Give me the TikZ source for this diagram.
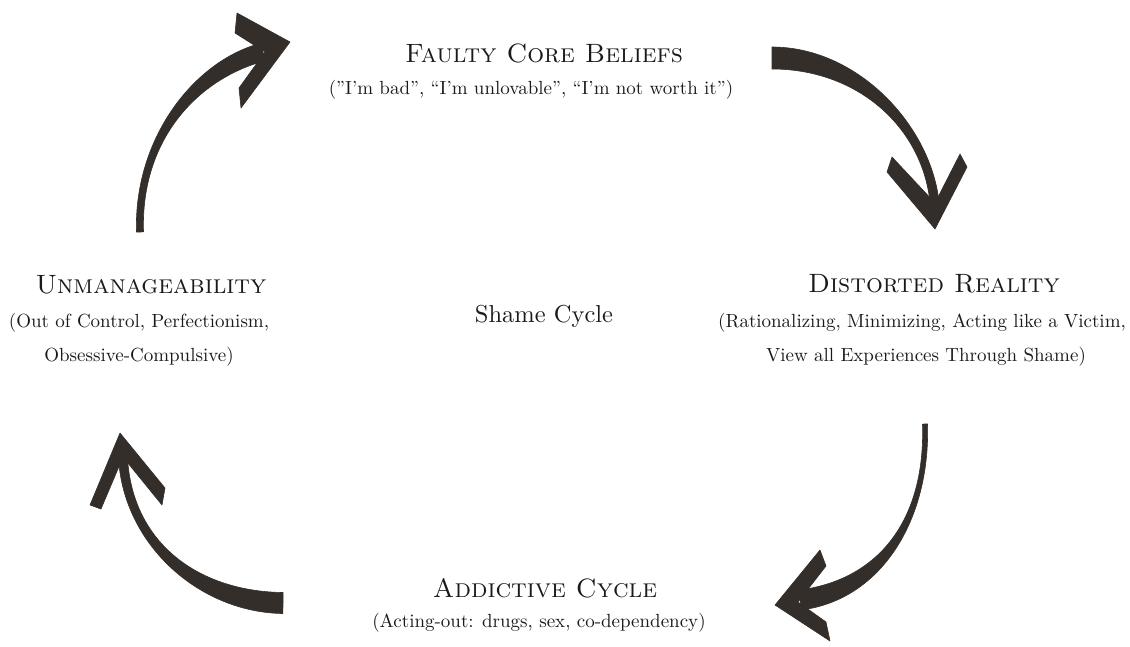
\documentclass[tikz,border=0pt]{standalone}
\usepackage{fontspec}
\setmainfont{lmroman10-regular.otf}[SmallCapsFont=lmromancaps10-regular.otf]
\usetikzlibrary{calc}
\definecolor{ink}{HTML}{342E2B}
\definecolor{txt}{HTML}{1A1A1A}
\tikzset{
  ttl/.style={anchor=base, inner sep=0pt, text=txt, font=\fontsize{26.5}{30}\selectfont\scshape},
  sbt/.style={anchor=base, inner sep=0pt, text=txt, font=\fontsize{19}{23}\selectfont},
  ctr/.style={anchor=base, inner sep=0pt, text=txt, font=\fontsize{24.5}{28}\selectfont},
  inkfill/.style={fill=ink, draw=ink, line width=0.6pt, line join=round}
}
% tapered brush shaft: #1 prefix, #2..#5 control points, #6 start half width, #7 end half width
\newcommand{\brushshaft}[7]{%
  \path (#2) coordinate (#1p0) (#3) coordinate (#1p1) (#4) coordinate (#1p2) (#5) coordinate (#1p3);
  \path ($(#1p0)!#6!90:(#1p1)$) coordinate (#1l0)
        ($(#1p0)!#6!-90:(#1p1)$) coordinate (#1r0)
        ($(#1p3)!#7!-90:(#1p2)$) coordinate (#1l3)
        ($(#1p3)!#7!90:(#1p2)$) coordinate (#1r3);
  \path ($(#1p1)+(#1l0)-(#1p0)$) coordinate (#1l1)
        ($(#1p2)+(#1l3)-(#1p3)$) coordinate (#1l2)
        ($(#1p1)+(#1r0)-(#1p0)$) coordinate (#1r1)
        ($(#1p2)+(#1r3)-(#1p3)$) coordinate (#1r2);
  \fill[inkfill] (#1l0) .. controls (#1l1) and (#1l2) .. (#1l3)
     -- (#1r3) .. controls (#1r2) and (#1r1) .. (#1r0) -- cycle;
}
\begin{document}
\begin{tikzpicture}[x=1pt,y=-1pt]
\useasboundingbox (0,0) rectangle (1130,646);

% ---- texts
\node[ttl] (faulty) at (544,62) {Faulty Core Beliefs};
\node[sbt] (faultysub) at (531,94) {(”I’m bad”, “I’m unlovable”, “I’m not worth it”)};

\node[ttl] (unman) at (151,293) {Unmanageability};
\node[sbt] (unmanA) at (139,327) {(Out of Control, Perfectionism,};
\node[sbt] (unmanB) at (139,361) {Obsessive-Compulsive)};

\node[ctr] (shame) at (544,322) {Shame Cycle};

\node[ttl] (distort) at (934,292) {Distorted Reality};
\node[sbt] (distortA) at (922,327) {(Rationalizing, Minimizing, Acting like a Victim,};
\node[sbt] (distortB) at (926,361) {View all Experiences Through Shame)};

\node[ttl] (addict) at (545,597) {Addictive Cycle};
\node[sbt] (addictsub) at (539,627) {(Acting-out: drugs, sex, co-dependency)};

% ---- arrow 1 (Unmanageability -> Faulty Core Beliefs)
\brushshaft{a}{140,232}{137,140}{195,70}{263,52}{3.5pt}{9pt}
\coordinate (aU1) at (237,13); \coordinate (aT) at (290,42);
\coordinate (aL1) at (241,108); \coordinate (aL2) at (239,88);
\coordinate (aV) at (265,52); \coordinate (aU2) at (235,33);
\fill[inkfill] (aU1) -- (aT) -- (aL1) -- (aL2) -- (aV) -- (aU2) -- cycle;

% ---- arrow 2 (Faulty Core Beliefs -> Distorted Reality)
\brushshaft{b}{772,58}{860,58}{930,130}{935,208}{11pt}{4.5pt}
\coordinate (bA1) at (887,172); \coordinate (bT) at (935,229);
\coordinate (bB1) at (967,167); \coordinate (bB2) at (960,154);
\coordinate (bV) at (935,203); \coordinate (bA2) at (892,157);
\fill[inkfill] (bA1) -- (bT) -- (bB1) -- (bB2) -- (bV) -- (bA2) -- cycle;

% ---- arrow 3 (Distorted Reality -> Addictive Cycle)
\brushshaft{c}{925,424}{928,520}{880,590}{800,600}{2.5pt}{10pt}
\coordinate (cU1) at (820,550); \coordinate (cT) at (775,605);
\coordinate (cL1) at (830,641); \coordinate (cL2) at (826,622);
\coordinate (cV) at (798,602); \coordinate (cU2) at (826,566);
\fill[inkfill] (cU1) -- (cT) -- (cL1) -- (cL2) -- (cV) -- (cU2) -- cycle;

% ---- arrow 4 (Addictive Cycle -> Unmanageability)
\brushshaft{d}{283,603}{200,602}{128,545}{123,458}{10.5pt}{4.5pt}
\coordinate (dA1) at (90,505); \coordinate (dT) at (120,433);
\coordinate (dB1) at (165,488); \coordinate (dB2) at (162,505);
\coordinate (dV) at (123,457); \coordinate (dA2) at (101,509);
\fill[inkfill] (dA1) -- (dT) -- (dB1) -- (dB2) -- (dV) -- (dA2) -- cycle;
\end{tikzpicture}
\end{document}
